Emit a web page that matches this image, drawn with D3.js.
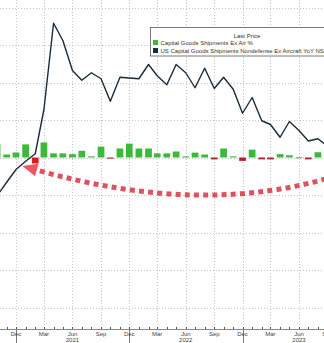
<!DOCTYPE html>
<html>
<head>
<meta charset="utf-8">
<script src="https://cdn.jsdelivr.net/npm/d3@7"></script>
<style>
  html, body { margin: 0; padding: 0; background: #fff; overflow: hidden; }
  text { font-family: "Liberation Sans", Arial, sans-serif; }
</style>
</head>
<body>
<svg id="chart" width="324" height="343"></svg>
<script>
// Monthly observations, Oct 2020 .. Sep 2023
const months = [
  "2020-10","2020-11","2020-12","2021-01","2021-02","2021-03","2021-04","2021-05",
  "2021-06","2021-07","2021-08","2021-09","2021-10","2021-11","2021-12","2022-01",
  "2022-02","2022-03","2022-04","2022-05","2022-06","2022-07","2022-08","2022-09",
  "2022-10","2022-11","2022-12","2023-01","2023-02","2023-03","2023-04","2023-05",
  "2023-06","2023-07","2023-08","2023-09"
];
// US Capital Goods Shipments Nondefense Ex Aircraft YoY NSA (%)
const yoyValues = [
  -5.1, -3.3, -1.6, -0.5, 0.5, 6.4, 17.9, 15.6,
  11.6, 10.3, 11.3, 10.5, 7.5, 10.7, 10.6, 10.5,
  12.4, 10.9, 9.7, 12.4, 11.3, 9.3, 11.9, 9.2,
  10.7, 9.1, 5.9, 8.0, 4.9, 4.4, 2.7, 4.8,
  3.6, 2.2, 2.5, 1.5
];
// Capital Goods Shipments Ex Air, m/m % (Oct 2020 .. Aug 2023)
const momValues = [
  1.75, 0.4, 0.67, 1.75, -0.8, 2.0, 0.55, 0.55,
  0.45, 0.9, 0.15, 1.45, -0.15, 1.2, 1.85, 1.2,
  1.2, 0.55, 0.55, 0.8, 0.15, 0.65, 0.4, -0.25,
  1.2, 0.15, -0.45, 1.05, -0.25, -0.25, 0.45, 0.3,
  0.03, -0.25, 0.7
];
const highlightMonth = "2021-02";
// Quarterly axis labels
const tickMonths = ["2020-12","2021-03","2021-06","2021-09","2021-12","2022-03","2022-06",
  "2022-09","2022-12","2023-03","2023-06","2023-09"];
const tickLabels = ["Dec","Mar","Jun","Sep","Dec","Mar","Jun","Sep","Dec","Mar","Jun","Sep"];
const yearMonths = ["2021-06","2022-06","2023-06"];
const yearLabels = ["2021","2022","2023"];
const gridValues = [20, 15, 10, 5, 0, -5, -10, -15, -20];
// Curved call-out arrow, in (month, value) space: start, control, end
const arrowPoints = [["2023-09-25", -2.47], ["2022-07-28", -7.93], ["2021-02-06", -1.67]];
const legendTitle = "Last Price";
const legendNames = ["Capital Goods Shipments Ex Air %", "US Capital Goods Shipments Nondefense Ex Aircraft YoY NSA"];

const W = 324, H = 343, axisY = 329;
const parse = d3.timeParse("%Y-%m");
const parseDay = d3.timeParse("%Y-%m-%d");

const x = d3.scaleTime()
  .domain([parse("2020-12"), parse("2023-06")])
  .range([16, 299]);
const y = d3.scaleLinear().domain([-20, 20]).range([307.5, 7.5]);

const svg = d3.select("#chart");
svg.append("rect").attr("width", W).attr("height", H).attr("fill", "#fff");

// grid
const grid = svg.append("g").attr("stroke", "#c4c4c4").attr("stroke-width", 1)
  .attr("stroke-dasharray", "1,2").attr("shape-rendering", "crispEdges");
grid.selectAll("line.h").data(gridValues).join("line").attr("class", "h")
  .attr("x1", 0).attr("x2", W).attr("y1", d => Math.round(y(d)) + 0.5).attr("y2", d => Math.round(y(d)) + 0.5);
grid.selectAll("line.v").data(tickMonths).join("line").attr("class", "v")
  .attr("x1", d => Math.round(x(parse(d))) + 0.5).attr("x2", d => Math.round(x(parse(d))) + 0.5)
  .attr("y1", 0).attr("y2", axisY);

// bars
const monthStep = x(parse("2021-01")) - x(parse("2020-12"));
const bw = monthStep * 0.7;
const barData = momValues.map((v, i) => ({ m: months[i], v }));
svg.append("g").selectAll("rect").data(barData).join("rect")
  .attr("x", d => x(parse(d.m)) - bw / 2)
  .attr("width", bw)
  .attr("y", d => Math.min(y(d.v), y(0)))
  .attr("height", d => Math.max(1, Math.abs(y(d.v) - y(0))))
  .attr("fill", d => d.m === highlightMonth ? "#d81c1c" : (d.v >= 0 ? "#3db83d" : "#a8262a"));

// line
const lineData = yoyValues.map((v, i) => ({ m: months[i], v }));
svg.append("path").datum(lineData)
  .attr("fill", "none").attr("stroke", "#1b2a3a").attr("stroke-width", 1.4)
  .attr("stroke-linejoin", "round")
  .attr("d", d3.line().x(d => x(parse(d.m))).y(d => y(d.v)));

// call-out arrow
const ap = arrowPoints.map(([d, v]) => [x(parseDay(d)), y(v)]);
const ap0 = ap[0], apc = ap[1], ap2 = ap[2];
svg.append("path")
  .attr("d", `M${ap0[0]},${ap0[1]} Q${apc[0]},${apc[1]} ${ap2[0]},${ap2[1]}`)
  .attr("fill", "none").attr("stroke", "#d8404c").attr("stroke-opacity", 0.9)
  .attr("stroke-width", 5).attr("stroke-dasharray", "5,4.2");
{
  const dx = ap2[0] - apc[0], dy = ap2[1] - apc[1];
  const len = Math.hypot(dx, dy), ux = dx / len, uy = dy / len;
  const L = 15, hw = 6.5;
  const tip = [ap2[0] + ux * L, ap2[1] + uy * L];
  const b1 = [ap2[0] - uy * hw, ap2[1] + ux * hw];
  const b2 = [ap2[0] + uy * hw, ap2[1] - ux * hw];
  svg.append("path").attr("d", `M${tip}L${b1}L${b2}Z`)
    .attr("fill", "#e84a55").attr("fill-opacity", 0.92);
}

// x axis
svg.append("line").attr("x1", 0).attr("x2", W).attr("y1", axisY + 0.5).attr("y2", axisY + 0.5)
  .attr("stroke", "#8a8a8a").attr("stroke-width", 1);
const allMonths = d3.timeMonth.range(parse("2020-09"), parse("2023-11"));
svg.append("g").selectAll("line").data(allMonths).join("line")
  .attr("x1", d => Math.round(x(d)) + 0.5).attr("x2", d => Math.round(x(d)) + 0.5)
  .attr("y1", axisY - 2).attr("y2", axisY)
  .attr("stroke", "#555").attr("stroke-width", 1);
// year separators
svg.append("g").selectAll("line").data(tickMonths.filter((d, i) => tickLabels[i] === "Dec")).join("line")
  .attr("x1", d => Math.round(x(parse(d))) + 0.5).attr("x2", d => Math.round(x(parse(d))) + 0.5)
  .attr("y1", axisY).attr("y2", H)
  .attr("stroke", "#777").attr("stroke-width", 1);
svg.append("g").selectAll("text").data(tickMonths).join("text")
  .attr("x", d => x(parse(d))).attr("y", 335.5)
  .attr("text-anchor", "middle").attr("font-size", 6).attr("fill", "#444")
  .text((d, i) => tickLabels[i]);
svg.append("g").selectAll("text").data(yearMonths).join("text")
  .attr("x", d => x(parse(d))).attr("y", 342)
  .attr("text-anchor", "middle").attr("font-size", 6).attr("fill", "#444")
  .text((d, i) => yearLabels[i]);

// legend
const lg = svg.append("g");
lg.append("rect").attr("x", 150.5).attr("y", 27.5).attr("width", 190).attr("height", 28.5)
  .attr("fill", "#fff").attr("stroke", "#5a5a5a").attr("stroke-width", 0.8);
lg.append("text").attr("x", 247).attr("y", 37.5).attr("text-anchor", "middle")
  .attr("font-size", 6).attr("fill", "#333").text(legendTitle);
const legendColors = ["#3db83d", "#1b2a3a"];
legendNames.forEach((n, i) => {
  lg.append("rect").attr("x", 153).attr("y", 40 + i * 8).attr("width", 5).attr("height", 5)
    .attr("fill", legendColors[i]);
  lg.append("text").attr("x", 160.5).attr("y", 45 + i * 8)
    .attr("font-size", 6).attr("fill", "#333").text(n);
});
</script>
</body>
</html>
